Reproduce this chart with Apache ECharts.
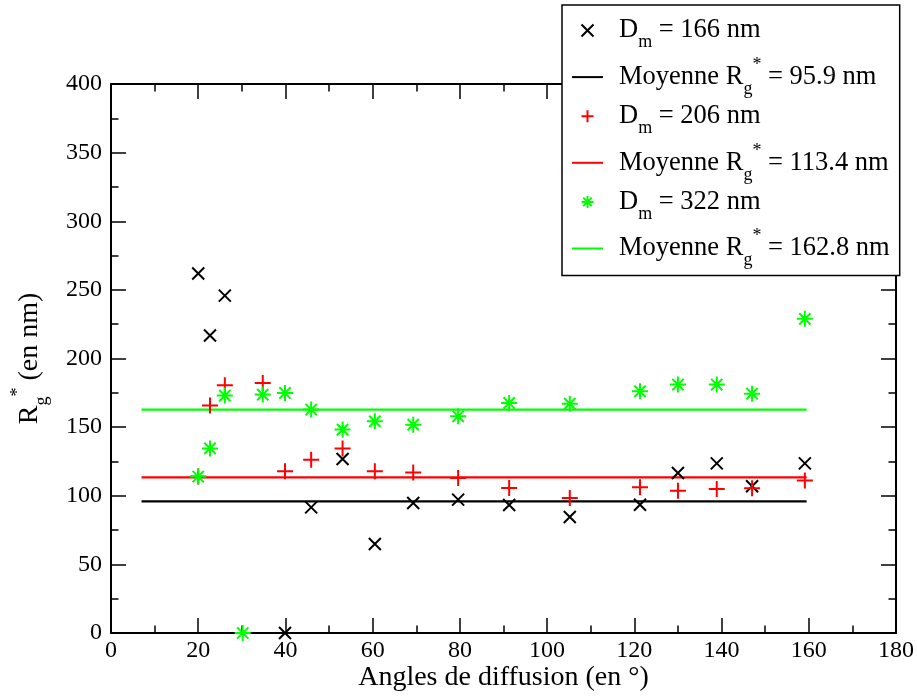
<!DOCTYPE html>
<html><head><meta charset="utf-8">
<script src="https://cdn.jsdelivr.net/npm/echarts@6/dist/echarts.min.js"></script>
<style>html,body{margin:0;padding:0;background:#fff}#c{width:917px;height:696px}</style>
</head><body><div id="c"></div>
<script>
// ---- data ----
const angles166 = [20, 22.7, 26.1, 39.9, 45.9, 53.1, 60.5, 69.3, 79.6, 91.3, 105.2, 121.3, 130, 138.9, 147, 159.1];
const rg166     = [261.9, 216.7, 245.8, 0, 91.5, 126.8, 64.9, 94.7, 97.2, 93.3, 84.5, 93.5, 116.6, 123.6, 106.9, 123.6];
const angles206 = [20, 22.7, 26.1, 34.8, 39.9, 45.9, 53.1, 60.5, 69.3, 79.6, 91.3, 105.2, 121.3, 130, 138.9, 147, 159.1];
const rg206     = [114.1, 165.7, 180.5, 182.2, 117.8, 126.3, 134.5, 117.8, 117, 113, 105.7, 98.4, 106.2, 103.7, 105, 105.4, 111.2];
const angles322 = [20, 22.7, 26.1, 30.2, 34.8, 39.9, 45.9, 53.1, 60.5, 69.3, 79.6, 91.3, 105.2, 121.3, 130, 138.9, 147, 159.1];
const rg322     = [114, 134.5, 173, 0, 173.7, 174.9, 162.8, 148.2, 154.2, 151.8, 157.9, 167.6, 167.1, 176.1, 181, 181, 174.4, 228.9];
const diameters = [166, 206, 322];
const means     = [95.9, 113.4, 162.8];
const meanLineX = [7, 159.5];
const colors    = ['#000000', '#ff0000', '#00ff00'];

const FONT = "'Liberation Serif', 'DejaVu Serif', serif";
const zip = (xs, ys) => xs.map((x, i) => [x, ys[i]]);
const angleSets = [angles166, angles206, angles322];
const rgSets = [rg166, rg206, rg322];
const symbols = [
  'path://M-5,-5L5,5M-5,5L5,-5',
  'path://M0,-8L0,8M-8,0L8,0',
  'path://M0,-8L0,8M-8,0L8,0M-5.66,-5.66L5.66,5.66M-5.66,5.66L5.66,-5.66'
];
const symSizes = [12, 16, 16];
const LINE_ICON = 'path://M0,0L31,0L31,2L0,2Z';

const series = [];
const legendData = [];
const legendText = {};
for (let k = 0; k < 3; k++) {
  const sName = 'D' + diameters[k];
  const mName = 'M' + diameters[k];
  legendData.push({ name: sName });
  legendData.push({ name: mName, icon: LINE_ICON, itemStyle: { color: colors[k], borderWidth: 0 } });
  legendText[sName] = 'D{sub|m} = ' + diameters[k] + ' nm';
  legendText[mName] = 'Moyenne R{sub|g}{sup|*} = ' + means[k] + ' nm';
  series.push({
    name: sName, type: 'scatter', data: zip(angleSets[k], rgSets[k]),
    symbol: symbols[k], symbolSize: symSizes[k],
    itemStyle: { color: colors[k], borderColor: colors[k], borderWidth: 2, opacity: 1 },
    emphasis: { disabled: true }, z: 3
  });
  series.push({
    name: mName, type: 'line', data: meanLineX.map(x => [x, means[k]]),
    symbol: 'none', lineStyle: { color: colors[k], width: 2.2 }, itemStyle: { color: colors[k] },
    emphasis: { disabled: true }, z: 2
  });
}

const axisCommon = {
  axisLine: { onZero: false, lineStyle: { color: '#000', width: 2 } },
  axisTick: { inside: true, length: 15, lineStyle: { color: '#000', width: 1.5 } },
  minorTick: { show: true, splitNumber: 2, length: 7.5, lineStyle: { color: '#000', width: 1.5 } },
  splitLine: { show: false },
  axisLabel: { color: '#000', fontFamily: FONT, fontSize: 24 }
};

const subStyle = { fontFamily: FONT, fontSize: 18, color: '#000', verticalAlign: 'bottom', padding: [24, 0, 0, 0] };
const supStyle = { fontFamily: FONT, fontSize: 18, color: '#000', verticalAlign: 'top', padding: [0, 0, 24, 0] };

const option = {
  animation: false,
  backgroundColor: '#fff',
  grid: { left: 111, top: 84, width: 785, height: 549, containLabel: false, outerBoundsMode: 'none' },
  xAxis: [
    Object.assign({}, axisCommon, {
      type: 'value', min: 0, max: 180, interval: 20, position: 'bottom',
      axisLabel: Object.assign({}, axisCommon.axisLabel, { margin: 6 }),
      name: 'Angles de diffusion (en °)', nameLocation: 'middle', nameGap: 31, nameMoveOverlap: false,
      nameTextStyle: { color: '#000', fontFamily: FONT, fontSize: 28 }
    }),
    Object.assign({}, axisCommon, {
      type: 'value', min: 0, max: 180, interval: 20, position: 'top',
      axisLabel: { show: false }
    })
  ],
  yAxis: [
    Object.assign({}, axisCommon, {
      type: 'value', min: 0, max: 400, interval: 50, position: 'left',
      axisLabel: Object.assign({}, axisCommon.axisLabel, { margin: 9 }),
      name: 'R{sub|g}{sup|*} (en nm)', nameLocation: 'middle', nameGap: 60, nameRotate: 90, nameMoveOverlap: false,
      nameTextStyle: { color: '#000', fontFamily: FONT, fontSize: 28, rich: { sub: subStyle, sup: supStyle } }
    }),
    Object.assign({}, axisCommon, {
      type: 'value', min: 0, max: 400, interval: 50, position: 'right',
      axisLabel: { show: false }
    })
  ],
  legend: {
    data: legendData, orient: 'vertical', left: 562, top: 5,
    padding: [12, 10, 6, 10], itemGap: 4.6, itemWidth: 31, itemHeight: 12,
    backgroundColor: '#fff', borderColor: '#000', borderWidth: 1.5, borderRadius: 0,
    selectedMode: false,
    formatter: name => legendText[name],
    textStyle: {
      color: '#000', fontFamily: FONT, fontSize: 26.5, padding: [0, 0, 0, 11],
      rich: { sub: subStyle, sup: supStyle }
    }
  },
  series: series
};

const chart = echarts.init(document.getElementById('c'), null, { renderer: 'canvas' });
chart.setOption(option);
</script>
</body></html>
